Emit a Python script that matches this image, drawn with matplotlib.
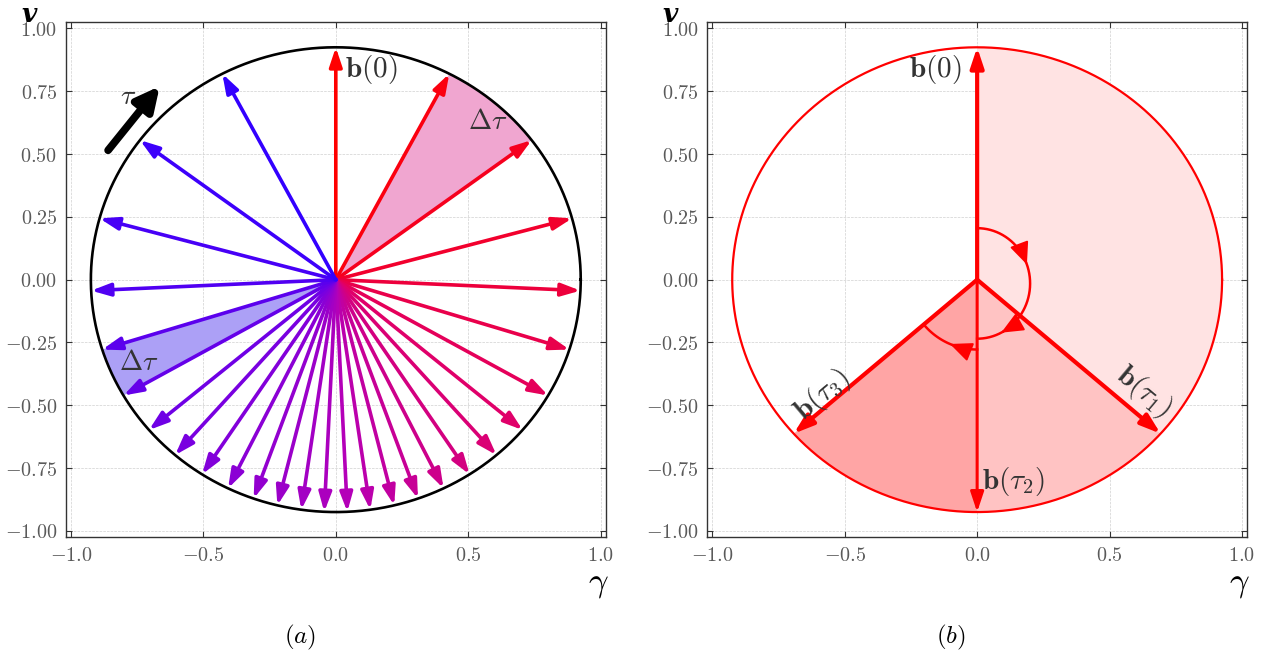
import numpy as np
import matplotlib
matplotlib.use("Agg")
import matplotlib.pyplot as plt
from matplotlib.colors import LinearSegmentedColormap
from matplotlib.ticker import FuncFormatter

plt.rcParams['mathtext.fontset'] = 'cm'
plt.rcParams['font.family'] = 'serif'
plt.rcParams['font.serif'] = ['DejaVu Serif']

# --- data ---
R = 0.925
# directions of b(tau) in panel (a), degrees, in drawing order (clockwise from the top)
angles_a = [90, 62.4, 36.9, 15.3, -2.7, -17.5, -29.9, -40.3, -49.0, -56.9, -63.9,
            -70.4, -76.2, -81.9, -87.3, -92.7, -98.1, -103.8, -109.6, -116.1,
            -123.1, -131.0, -139.7, -150.1, -162.5, -177.3, 164.7, 143.1, 117.6]
wedge_pink = (36.9, 62.4)
wedge_blue = (-162.5, -150.1)

# panel (b)
tau_names = [r'$\mathbf{b}(0)$', r'$\mathbf{b}(\tau_1)$', r'$\mathbf{b}(\tau_2)$', r'$\mathbf{b}(\tau_3)$']
tau_angles = [90, -41.5, -90, -138.5]
shade_colors = ['#ffe3e3', '#ffc3c3', '#ffa5a5']

xticks = [-1.0, -0.5, 0.0, 0.5, 1.0]
yticks = [-1.0, -0.75, -0.5, -0.25, 0.0, 0.25, 0.5, 0.75, 1.0]

cmap = LinearSegmentedColormap.from_list('rb', ['#ff0000', '#e0006a', '#b400b8', '#7a00e0', '#3300ff'])
txt_col = '#333333'


def pt(deg, r=R):
    a = np.radians(deg)
    return r * np.cos(a), r * np.sin(a)


def wedge(ax, a0, a1, color, z=1):
    th = np.linspace(np.radians(a0), np.radians(a1), 100)
    xs = np.concatenate([[0], R * np.cos(th), [0]])
    ys = np.concatenate([[0], R * np.sin(th), [0]])
    ax.fill(xs, ys, color=color, lw=0, zorder=z)


def arrow(ax, tip, color, lw=2.2, ms=18, z=3, start=(0, 0), hl=0.6, hw=0.2):
    ax.annotate('', xy=tip, xytext=start, zorder=z,
                arrowprops=dict(arrowstyle=f'-|>,head_length={hl},head_width={hw}',
                                color=color, lw=lw, mutation_scale=ms,
                                shrinkA=0, shrinkB=0))


def setup(ax):
    ax.set_xlim(-1.02, 1.02)
    ax.set_ylim(-1.025, 1.025)
    ax.set_xticks(xticks)
    ax.set_yticks(yticks)
    ax.xaxis.set_major_formatter(FuncFormatter(lambda v, p: f'${v:.1f}$'))
    ax.yaxis.set_major_formatter(FuncFormatter(lambda v, p: f'${v:.2f}$'))
    ax.tick_params(direction='in', top=True, right=True, length=4, width=0.8,
                   colors='#333333', labelcolor='#5a5a5a', labelsize=14.5, pad=6)
    ax.grid(True, ls='--', lw=0.5, color='#d0d0d0')
    ax.set_axisbelow(True)
    for s in ax.spines.values():
        s.set_color('#333333')
        s.set_linewidth(1.0)
    ax.text(-0.068, 1.0, 'v', transform=ax.transAxes, fontsize=19,
            family='DejaVu Serif', weight='bold', style='italic',
            ha='center', va='baseline', color='black')
    ax.text(0.986, -0.055, r'$\gamma$', transform=ax.transAxes, fontsize=25,
            ha='center', va='top', color='black')


fig = plt.figure(figsize=(12.71, 6.64), dpi=100)
ax1 = fig.add_axes([0.0517, 0.191, 0.425, 0.7756])
ax2 = fig.add_axes([0.5563, 0.191, 0.425, 0.7756])
setup(ax1)
setup(ax2)

# --- panel (a) ---
circ = np.linspace(0, 2 * np.pi, 400)
ax1.plot(R * np.cos(circ), R * np.sin(circ), color='black', lw=1.9, zorder=4)
wedge(ax1, *wedge_pink, '#f0a6d0')
wedge(ax1, *wedge_blue, '#aca0f6')
n = len(angles_a)
for i, a in enumerate(angles_a):
    arrow(ax1, pt(a), cmap(i / (n - 1)), lw=2.6, ms=19)
ax1.text(0.135, 0.838, tau_names[0], fontsize=21, color=txt_col, ha='center', va='center')
ax1.text(0.575, 0.63, r'$\Delta\tau$', fontsize=20, color=txt_col, ha='center', va='center')
ax1.text(-0.745, -0.33, r'$\Delta\tau$', fontsize=20, color=txt_col, ha='center', va='center')
arrow(ax1, (-0.665, 0.77), 'black', lw=5.5, ms=20, start=(-0.86, 0.515), hl=0.7, hw=0.35)
ax1.text(-0.785, 0.73, r'$\tau$', fontsize=20, color=txt_col, ha='center', va='center')

# --- panel (b) ---
for k in range(3):
    wedge(ax2, tau_angles[k + 1], tau_angles[k], shade_colors[k])
ax2.plot(R * np.cos(circ), R * np.sin(circ), color='red', lw=1.6, zorder=4)
for k, a in enumerate(tau_angles):
    arrow(ax2, pt(a), 'red', lw=3.0 if k != 2 else 2.2, ms=20)

# turning arcs
t1 = np.linspace(90, -90, 200)
ax2.plot(0.2 * np.cos(np.radians(t1)), -0.015 + 0.22 * np.sin(np.radians(t1)), color='red', lw=1.8, zorder=3)
t2 = np.linspace(-90, -138.5, 100)
ax2.plot(0.263 * np.cos(np.radians(t2)), 0.278 * np.sin(np.radians(t2)), color='red', lw=1.8, zorder=3)
for a, rx, ry, y0 in [(20, 0.2, 0.22, -0.015), (-63, 0.2, 0.22, -0.015), (-113, 0.263, 0.278, 0.0)]:
    p1 = (rx * np.cos(np.radians(a)), y0 + ry * np.sin(np.radians(a)))
    p0 = (rx * np.cos(np.radians(a + 3)), y0 + ry * np.sin(np.radians(a + 3)))
    arrow(ax2, p1, 'red', lw=1.4, ms=17, start=p0, hl=0.8, hw=0.35)

ax2.text(-0.16, 0.838, tau_names[0], fontsize=21, color=txt_col, ha='center', va='center')
ax2.text(0.63, -0.445, tau_names[1], fontsize=21, color=txt_col, ha='center', va='center', rotation=-40)
ax2.text(0.135, -0.805, tau_names[2], fontsize=21, color=txt_col, ha='center', va='center')
ax2.text(-0.585, -0.458, tau_names[3], fontsize=21, color=txt_col, ha='center', va='center', rotation=40)

fig.text(0.236, 0.04, r'$(a)$', fontsize=18, ha='center', va='center')
fig.text(0.748, 0.04, r'$(b)$', fontsize=18, ha='center', va='center')

fig.savefig('out.png', dpi=100)
